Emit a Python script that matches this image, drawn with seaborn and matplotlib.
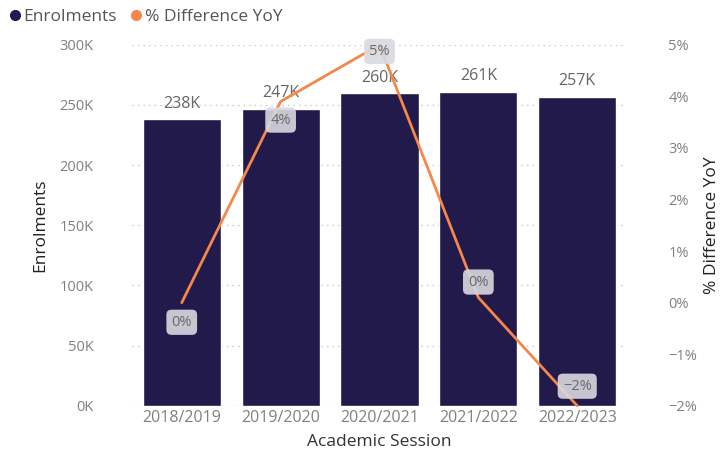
import pandas as pd
import matplotlib.pyplot as plt
import seaborn as sns
from matplotlib.lines import Line2D
from matplotlib.ticker import FuncFormatter

# -----------------------------
# Data
# -----------------------------
sessions = ["2018/2019", "2019/2020", "2020/2021", "2021/2022", "2022/2023"]
enrolments = [238000, 247000, 260000, 261000, 257000]
pct_diff = [0.0, 3.9, 5.0, 0.1, -2.0]
pct_labels = ["0%", "4%", "5%", "0%", "-2%"]
bar_labels = ["238K", "247K", "260K", "261K", "257K"]

df = pd.DataFrame({"Session": sessions, "Enrolments": enrolments, "Pct": pct_diff})

bar_color = "#211a4a"
line_color = "#f5874a"
tick_color = "#808080"

sns.set_theme(style="white")
plt.rcParams["font.family"] = ["Open Sans", "DejaVu Sans"]

fig = plt.figure(figsize=(7.27, 4.57), dpi=100)
ax = fig.add_axes([0.182, 0.112, 0.68, 0.79])

# -----------------------------
# Bars
# -----------------------------
sns.barplot(data=df, x="Session", y="Enrolments", color=bar_color,
            width=0.79, saturation=1, ax=ax, zorder=2)
ax.set_ylim(0, 300000)
ax.set_yticks(range(0, 300001, 50000))
ax.yaxis.set_major_formatter(FuncFormatter(lambda v, p: f"{int(v/1000)}K"))
ax.grid(axis="y", linestyle=(0, (1, 3)), color="#c8c8c8", linewidth=1, zorder=0)
ax.set_axisbelow(True)
for s in ax.spines.values():
    s.set_visible(False)
ax.tick_params(axis="both", colors=tick_color, length=0)
ax.tick_params(axis="y", pad=28, labelsize=10.5)
ax.tick_params(axis="x", pad=3, labelsize=11.5)
ax.set_xlabel("Academic Session", fontsize=12.5, color="#333333", labelpad=6)
ax.set_ylabel("Enrolments", fontsize=12.5, color="#222222", labelpad=8)

for i, (v, lab) in enumerate(zip(enrolments, bar_labels)):
    ax.text(i, v + 6000, lab, ha="center", va="bottom", fontsize=11.5, color="#666666", zorder=5)

# -----------------------------
# Line on secondary axis
# -----------------------------
ax2 = ax.twinx()
sns.lineplot(x=range(len(sessions)), y=pct_diff, color=line_color, linewidth=2,
             ax=ax2, zorder=3, clip_on=False)
ax2.set_ylim(-2, 5)
ax2.set_yticks(range(-2, 6))
ax2.yaxis.set_major_formatter(FuncFormatter(lambda v, p: f"{int(v)}%".replace("-", "\u2212")))
for s in ax2.spines.values():
    s.set_visible(False)
ax2.tick_params(axis="y", colors=tick_color, labelsize=10.5, length=0, pad=30)
ax2.set_ylabel("% Difference YoY", fontsize=12.5, color="#222222", labelpad=5)
ax.set_xlim(-0.5, len(sessions) - 0.5)

offsets = [-0.38, -0.36, -0.13, 0.3, 0.38]
for i, (v, lab, off) in enumerate(zip(pct_diff, pct_labels, offsets)):
    ax2.text(i, v + off, lab.replace("-", "\u2212"), ha="center", va="center", fontsize=10.5,
             color="#6a6a6a", zorder=6,
             bbox=dict(boxstyle="round,pad=0.35", fc="#d9d9e0", ec="none", alpha=0.9))

# -----------------------------
# Legend
# -----------------------------
handles = [
    Line2D([], [], marker="o", linestyle="none", color="#211a4a", markersize=7),
    Line2D([], [], marker="o", linestyle="none", color=line_color, markersize=7),
]
fig.legend(handles, ["Enrolments", "% Difference YoY"], loc="upper left",
           bbox_to_anchor=(-0.025, 1.015), ncol=2, frameon=False, fontsize=12.5,
           handletextpad=-0.5, columnspacing=0.1, labelcolor="#555555")

fig.savefig("out.png", dpi=100)
